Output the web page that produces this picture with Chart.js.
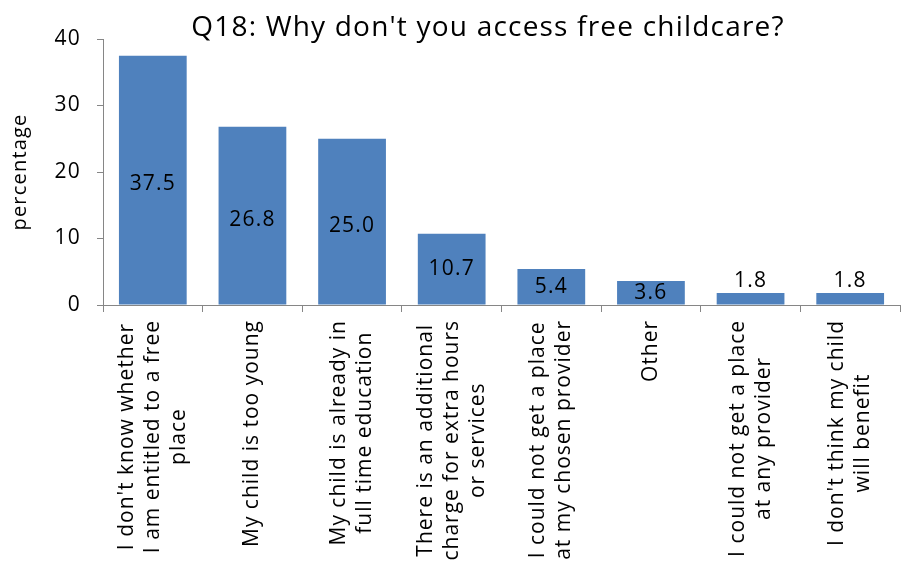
<!DOCTYPE html>
<html>
<head>
<meta charset="utf-8">
<script src="https://cdn.jsdelivr.net/npm/chart.js@4.4.1/dist/chart.umd.min.js"></script>
<style>
  html, body { margin: 0; padding: 0; background: #fff; }
  #wrap { width: 901px; height: 568px; }
</style>
</head>
<body>
<div id="wrap"><canvas id="c" width="901" height="568"></canvas></div>
<script>
// Survey answers, each split into the lines it is printed on
const categories = [
  ["I don't know whether", "I am entitled to a free", "place"],
  ["My child is too young"],
  ["My child is already in", "full time education"],
  ["There is an additional", "charge for extra hours", "or services"],
  ["I could not get a place", "at my chosen provider"],
  ["Other"],
  ["I could not get a place", "at any provider"],
  ["I don't think my child", "will benefit"]
];
const percentages = [37.5, 26.8, 25.0, 10.7, 5.4, 3.6, 1.8, 1.8];
const yTicks = [0, 10, 20, 30, 40];

const chartTitle = "Q18: Why don't you access free childcare?";
const yTitle = "percentage";

const FONT = '"Open Sans", "Noto Sans", sans-serif';
const SPACING = '1.2px';
const AXIS = '#868686';
const BAR = '#4F81BD';

// Slightly open letter spacing for every piece of text on the canvas
const textSpacing = {
  id: 'textSpacing',
  beforeDraw(chart) { chart.ctx.letterSpacing = SPACING; }
};

// Chart heading, centred a little left of the plot centre
const heading = {
  id: 'heading',
  afterDraw(chart) {
    const { ctx } = chart;
    ctx.save();
    ctx.letterSpacing = SPACING;
    ctx.font = '28px ' + FONT;
    ctx.fillStyle = '#000';
    ctx.textAlign = 'center';
    ctx.textBaseline = 'alphabetic';
    ctx.fillText(chartTitle, 488, 36);
    ctx.restore();
  }
};

// Rotated category labels, lines centred on each other, hanging below the axis
const categoryLabels = {
  id: 'categoryLabels',
  afterDraw(chart) {
    const { ctx } = chart;
    const x = chart.scales.x;
    const lineH = 26;
    ctx.save();
    ctx.letterSpacing = '1px';
    ctx.font = '21px ' + FONT;
    ctx.fillStyle = '#000';
    ctx.textAlign = 'center';
    ctx.textBaseline = 'middle';
    categories.forEach((lines, i) => {
      const cx = x.getPixelForValue(i);
      const w = Math.max(...lines.map(l => ctx.measureText(l).width));
      ctx.save();
      ctx.translate(cx, x.top + 15);
      ctx.rotate(-Math.PI / 2);
      lines.forEach((line, j) => {
        const off = (j - (lines.length - 1) / 2) * lineH;
        ctx.fillText(line, -w / 2, off);
      });
      ctx.restore();
    });
    ctx.restore();
  }
};

// Value printed in the middle of each bar, or just above it when the bar is short
const valueLabels = {
  id: 'valueLabels',
  afterDatasetsDraw(chart) {
    const { ctx } = chart;
    const meta = chart.getDatasetMeta(0);
    ctx.save();
    ctx.letterSpacing = SPACING;
    ctx.font = '21px ' + FONT;
    ctx.fillStyle = '#000';
    ctx.textAlign = 'center';
    ctx.textBaseline = 'middle';
    meta.data.forEach((bar, i) => {
      const v = chart.data.datasets[0].data[i];
      const h = bar.base - bar.y;
      let y;
      if (h < 16) y = bar.y - 12;
      else if (h > 100) y = (bar.y + bar.base) / 2 + 4;
      else y = (bar.y + bar.base) / 2;
      ctx.fillText(v.toFixed(1), bar.x, y);
    });
    ctx.restore();
  }
};

new Chart(document.getElementById('c'), {
  type: 'bar',
  data: {
    labels: categories.map(l => l.join(' ')),
    datasets: [{
      data: percentages,
      backgroundColor: BAR,
      borderWidth: 0,
      categoryPercentage: 1.0,
      barPercentage: 0.68
    }]
  },
  options: {
    responsive: false,
    animation: false,
    events: [],
    layout: { padding: { left: 0, right: 1, top: 39, bottom: 0 } },
    plugins: {
      legend: { display: false },
      tooltip: { enabled: false },
      title: { display: false }
    },
    scales: {
      x: {
        offset: true,
        grid: {
          display: true,
          offset: true,
          drawOnChartArea: false,
          drawTicks: true,
          tickLength: 7,
          color: AXIS,
          lineWidth: 1
        },
        border: { display: true, color: AXIS, width: 1 },
        ticks: { display: false },
        afterFit(scale) { scale.height = 263; }
      },
      y: {
        min: yTicks[0],
        max: yTicks[yTicks.length - 1],
        afterBuildTicks(scale) { scale.ticks = yTicks.map(v => ({ value: v })); },
        grid: {
          display: true,
          drawOnChartArea: false,
          drawTicks: true,
          tickLength: 6,
          color: AXIS,
          lineWidth: 1
        },
        border: { display: true, color: AXIS, width: 1 },
        ticks: {
          color: '#000',
          padding: 16,
          font: { family: FONT, size: 21 }
        },
        title: {
          display: true,
          text: yTitle,
          color: '#000',
          font: { family: FONT, size: 20 },
          padding: { top: 8, bottom: 0 }
        },
        afterFit(scale) { scale.width = 103; }
      }
    }
  },
  plugins: [textSpacing, categoryLabels, valueLabels, heading]
});
</script>
</body>
</html>
